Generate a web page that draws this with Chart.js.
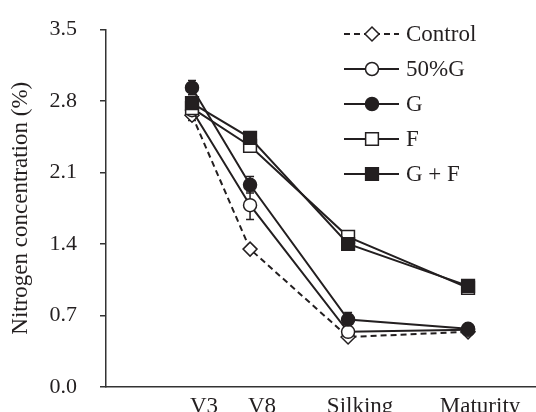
<!DOCTYPE html>
<html>
<head>
<meta charset="utf-8">
<script src="https://cdn.jsdelivr.net/npm/chart.js@4.4.0/dist/chart.umd.min.js"></script>
<style>
	html, body { margin: 0; padding: 0; background: #fff; overflow: hidden; }
</style>
</head>
<body>
<canvas id="myChart" width="536" height="420"></canvas>
<script>
/* growth stages (x value = relative time along the season) */
var stageNames = ['V3', 'V8', 'Silking', 'Maturity'];
var stageDay = [20, 33.5, 56.3, 84.2];
var yTicks = [0, 0.7, 1.4, 2.1, 2.8, 3.5];

/* nitrogen concentration (%) */
var controlN = [2.66, 1.35, 0.49, 0.54];
var halfGN = [2.71, 1.78, 0.54, 0.56];
var gN = [2.93, 1.98, 0.66, 0.57];
var fN = [2.73, 2.36, 1.47, 0.97];
var gfN = [2.78, 2.44, 1.40, 0.99];

/* error bars (+/-) */
var controlErr = [0.05, 0.02, 0.02, 0.01];
var halfGErr = [0.03, 0.14, 0.03, 0.01];
var gErr = [0.07, 0.08, 0.07, 0.02];
var fErr = [0.03, 0.03, 0.03, 0.02];
var gfErr = [0.03, 0.03, 0.03, 0.02];

var ink = '#231f20';
var serif = '"Liberation Serif", "Times New Roman", serif';

function toPoints(values) {
	return stageDay.map(function (d, i) {
		return { x: d, y: values[i] };
	});
}

function makeSet(label, values, errs, style, radius, fill, dash, order) {
	return {
		label: label,
		data: toPoints(values),
		errors: errs,
		borderColor: ink,
		borderWidth: 2,
		borderDash: dash,
		tension: 0,
		pointStyle: style,
		pointRadius: radius,
		pointHoverRadius: radius,
		pointBorderWidth: 1.5,
		pointBorderColor: ink,
		pointBackgroundColor: fill,
		order: order
	};
}

var datasets = [
	makeSet('Control', controlN, controlErr, 'rectRot', 7, '#fff', [6, 4], 4),
	makeSet('50%G', halfGN, halfGErr, 'circle', 6.5, '#fff', [], 3),
	makeSet('G', gN, gErr, 'circle', 6.5, ink, [], 2),
	makeSet('F', fN, fErr, 'rect', 9, '#fff', [], 1),
	makeSet('G + F', gfN, gfErr, 'rect', 9, ink, [], 0)
];

// error bars under the markers
const errorBarPlugin = {
	id: 'errorBarPlugin',
	beforeDatasetsDraw(chart) {
		const ctx = chart.ctx;
		const xs = chart.scales.x;
		const ys = chart.scales.y;
		ctx.save();
		ctx.strokeStyle = ink;
		ctx.lineWidth = 1.5;
		chart.data.datasets.forEach(function (ds) {
			ds.data.forEach(function (pt, j) {
				var e = ds.errors[j];
				if (!e) return;
				var px = xs.getPixelForValue(pt.x);
				var top = ys.getPixelForValue(pt.y + e);
				var bot = ys.getPixelForValue(pt.y - e);
				ctx.beginPath();
				ctx.moveTo(px, top);
				ctx.lineTo(px, bot);
				ctx.moveTo(px - 4, top);
				ctx.lineTo(px + 4, top);
				ctx.moveTo(px - 4, bot);
				ctx.lineTo(px + 4, bot);
				ctx.stroke();
			});
		});
		ctx.restore();
	}
};

// legend: line sample with marker, then text
const legendPlugin = {
	id: 'legendPlugin',
	afterDraw(chart) {
		const ctx = chart.ctx;
		ctx.save();
		chart.data.datasets.forEach(function (ds, i) {
			var y = 34 + i * 35;
			ctx.strokeStyle = ink;
			ctx.lineWidth = 2;
			ctx.setLineDash(ds.borderDash);
			ctx.beginPath();
			ctx.moveTo(344, y);
			ctx.lineTo(399, y);
			ctx.stroke();
			ctx.setLineDash([]);
			ctx.fillStyle = ds.pointBackgroundColor;
			ctx.strokeStyle = ink;
			ctx.lineWidth = 1.5;
			Chart.helpers.drawPoint(ctx, {
				pointStyle: ds.pointStyle,
				radius: ds.pointRadius,
				borderWidth: 1.5,
				rotation: 0
			}, 372, y);
			ctx.fillStyle = ink;
			ctx.font = '23px ' + serif;
			ctx.textBaseline = 'middle';
			ctx.textAlign = 'left';
			ctx.fillText(ds.label, 406, y + 1);
		});
		ctx.restore();
	}
};

var myChart = new Chart(document.getElementById('myChart'), {
	type: 'line',
	data: { datasets: datasets },
	options: {
		responsive: false,
		animation: false,
		layout: {
			autoPadding: false,
			padding: { left: 0, right: 0, top: 29.5, bottom: 0 }
		},
		plugins: {
			legend: { display: false },
			tooltip: { enabled: false }
		},
		scales: {
			x: {
				type: 'linear',
				min: 0,
				max: 100,
				afterBuildTicks: function (scale) {
					scale.ticks = stageDay.map(function (v) { return { value: v }; });
				},
				afterFit: function (scale) {
					scale.height = 33;
					scale.paddingLeft = 0;
					scale.paddingRight = 0;
				},
				ticks: {
					callback: function (value, index) {
						return stageNames[index];
					},
					autoSkip: false,
					maxRotation: 0,
					minRotation: 0,
					labelOffset: 12,
					padding: 6,
					color: ink,
					font: { family: serif, size: 23 }
				},
				grid: { display: false, drawTicks: false },
				border: { display: true, color: '#333', width: 1.5 }
			},
			y: {
				min: 0,
				max: 3.5,
				afterBuildTicks: function (scale) {
					scale.ticks = yTicks.map(function (v) { return { value: v }; });
				},
				afterFit: function (scale) {
					scale.width = 106;
					scale.paddingTop = 0;
					scale.paddingBottom = 0;
				},
				ticks: {
					callback: function (value) {
						return Number(value).toFixed(1);
					},
					padding: 23,
					color: ink,
					font: { family: serif, size: 22 }
				},
				grid: {
					drawOnChartArea: false,
					drawTicks: true,
					tickLength: 6,
					color: '#333',
					lineWidth: 1.5
				},
				border: { display: true, color: '#333', width: 1.5 },
				title: {
					display: true,
					text: 'Nitrogen concentration (%)',
					color: ink,
					font: { family: serif, size: 23 },
					padding: { top: 7, bottom: 0 }
				}
			}
		}
	},
	plugins: [errorBarPlugin, legendPlugin]
});
</script>
</body>
</html>
